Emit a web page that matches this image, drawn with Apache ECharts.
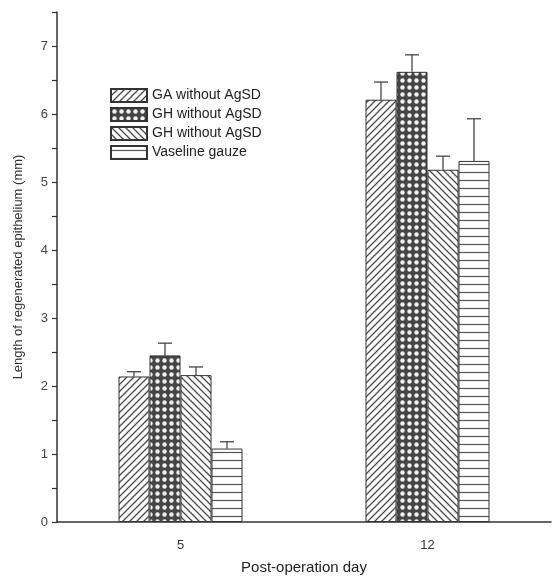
<!DOCTYPE html>
<html><head><meta charset="utf-8">
<script src="https://cdn.jsdelivr.net/npm/echarts@6/dist/echarts.min.js"></script>
<style>html,body{margin:0;padding:0;background:#fff}#c{width:552px;height:581px}</style>
</head><body><div id="c"></div>
<script>
const categories = ['5', '12'];
const seriesNames = ['GA without AgSD', 'GH without AgSD', 'GH without AgSD ', 'Vaseline gauze'];
const gaValues = [2.14, 6.21];
const gaErr = [0.07, 0.26];
const ghValues = [2.45, 6.62];
const ghErr = [0.18, 0.25];
const gh2Values = [2.16, 5.18];
const gh2Err = [0.12, 0.20];
const vasValues = [1.08, 5.31];
const vasErr = [0.10, 0.62];
const yMax = 7.5;

function makePattern(kind) {
  const s = kind === 'horiz' ? 8 : 7;
  const c = document.createElement('canvas');
  c.width = s; c.height = s;
  const g = c.getContext('2d');
  g.fillStyle = '#fff'; g.fillRect(0, 0, s, s);
  g.strokeStyle = '#4a4a4a'; g.lineWidth = 1.3;
  if (kind === 'fwd') {
    g.beginPath();
    g.moveTo(0, s); g.lineTo(s, 0);
    g.moveTo(-1, 1); g.lineTo(1, -1);
    g.moveTo(s - 1, s + 1); g.lineTo(s + 1, s - 1);
    g.stroke();
  } else if (kind === 'back') {
    g.beginPath();
    g.moveTo(0, 0); g.lineTo(s, s);
    g.moveTo(-1, s - 1); g.lineTo(1, s + 1);
    g.moveTo(s - 1, -1); g.lineTo(s + 1, 1);
    g.stroke();
  } else if (kind === 'cross') {
    g.fillStyle = '#454545'; g.fillRect(0, 0, s, s);
    g.fillStyle = '#f2f2f2';
    g.beginPath(); g.arc(s / 2, s / 2, 2.2, 0, Math.PI * 2); g.fill();
  } else if (kind === 'horiz') {
    g.lineWidth = 1.2; g.strokeStyle = '#555';
    g.beginPath(); g.moveTo(0, 4.5); g.lineTo(s, 4.5); g.stroke();
  }
  return { image: c, repeat: 'repeat' };
}

const patterns = [makePattern('fwd'), makePattern('cross'), makePattern('back'), makePattern('horiz')];
const allValues = [gaValues, ghValues, gh2Values, vasValues];
const allErrs = [gaErr, ghErr, gh2Err, vasErr];
const BW = 31;
const FONT = 'Liberation Sans, Arial, sans-serif';

const barSeries = seriesNames.map((n, i) => ({
  name: n, type: 'bar', data: allValues[i], barWidth: BW, barGap: '0%',
  itemStyle: { color: patterns[i], borderColor: '#333', borderWidth: 1 },
  emphasis: { disabled: true }, animation: false, z: 2
}));

const errData = [];
allValues.forEach((vals, si) => vals.forEach((v, ci) => errData.push([ci, v, allErrs[si][ci], si])));

const errSeries = {
  type: 'custom', data: errData, animation: false, z: 3,
  encode: { x: 0, y: 1 },
  renderItem: function (params, api) {
    const ci = api.value(0), v = api.value(1), e = api.value(2), si = api.value(3);
    const base = api.coord([ci, v]);
    const top = api.coord([ci, v + e]);
    const x = base[0] + (si - 1.5) * BW;
    const cap = 7;
    const st = { stroke: '#444', lineWidth: 1.3 };
    return { type: 'group', children: [
      { type: 'line', shape: { x1: x, y1: base[1], x2: x, y2: top[1] }, style: st },
      { type: 'line', shape: { x1: x - cap, y1: top[1], x2: x + cap, y2: top[1] }, style: st }
    ]};
  }
};

const chart = echarts.init(document.getElementById('c'), null, { renderer: 'canvas' });
chart.setOption({
  backgroundColor: '#fff',
  animation: false,
  grid: { left: 57, right: 1, top: 12, bottom: 59 },
  legend: {
    data: seriesNames, orient: 'vertical', left: 105, top: 83,
    icon: 'rect', itemWidth: 36, itemHeight: 13, itemGap: 4,
    textStyle: { fontFamily: FONT, fontSize: 14, color: '#222' },
    selectedMode: false
  },
  xAxis: {
    type: 'category', data: categories,
    name: 'Post-operation day', nameLocation: 'middle', nameGap: 38,
    nameTextStyle: { fontFamily: FONT, fontSize: 15, color: '#222' },
    axisLine: { lineStyle: { color: '#333', width: 1.5 } },
    axisTick: { show: false },
    axisLabel: { margin: 17, fontFamily: FONT, fontSize: 13, color: '#333' }
  },
  yAxis: {
    type: 'value', min: 0, max: yMax, interval: 0.5,
    name: 'Length of regenerated epithelium (mm)', nameLocation: 'middle', nameGap: 32,
    nameTextStyle: { fontFamily: FONT, fontSize: 13, color: '#333' },
    axisLine: { show: true, lineStyle: { color: '#333', width: 1.5 } },
    axisTick: { show: true, length: 5, lineStyle: { color: '#333', width: 1.2 } },
    splitLine: { show: false },
    axisLabel: {
      margin: 9, fontFamily: FONT, fontSize: 13, color: '#444',
      formatter: v => (Math.abs(v - Math.round(v)) < 1e-6 && v <= 7) ? String(Math.round(v)) : ''
    }
  },
  series: barSeries.concat([errSeries])
});
</script></body></html>
